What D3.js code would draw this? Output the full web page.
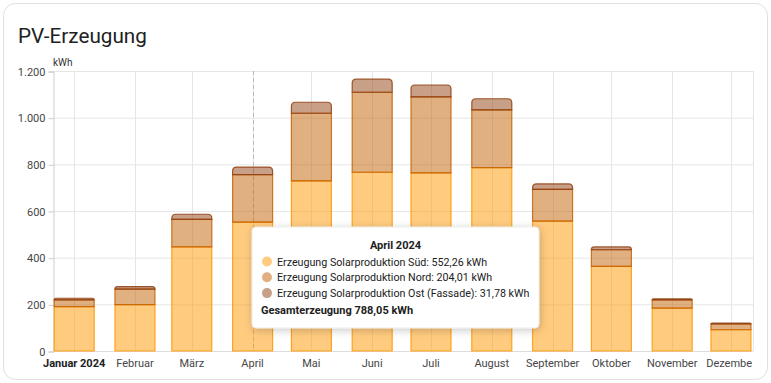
<!DOCTYPE html>
<html>
<head>
<meta charset="utf-8">
<script src="https://cdn.jsdelivr.net/npm/d3@7"></script>
<style>
  body { margin: 0; background: #fff; font-family: Roboto, "Noto Sans", sans-serif; }
  svg { display: block; }
</style>
</head>
<body>
<svg id="chart" width="771" height="383"></svg>
<script>
/* DATA */
const months = ["2024-01-01", "2024-02-01", "2024-03-01", "2024-04-01", "2024-05-01", "2024-06-01",
  "2024-07-01", "2024-08-01", "2024-09-01", "2024-10-01", "2024-11-01", "2024-12-01"];
const monthLabels = ["Januar 2024", "Februar", "März", "April", "Mai", "Juni",
  "Juli", "August", "September", "Oktober", "November", "Dezember"];
const sued = [190, 199, 446, 552.26, 729, 766, 763, 786, 557, 363, 184, 91];
const nord = [29, 66, 118, 204.01, 290, 343, 326, 247, 136, 71, 35, 25];
const ost = [7, 11, 22, 31.78, 47, 56, 51, 48, 23, 12, 5, 4];
const yTicks = [0, 200, 400, 600, 800, 1000, 1200];

const series = [
  { name: "Erzeugung Solarproduktion Süd", values: sued, color: "#ff9800" },
  { name: "Erzeugung Solarproduktion Nord", values: nord, color: "#c46204" },
  { name: "Erzeugung Solarproduktion Ost (Fassade)", values: ost, color: "#914010" }
];
const hoverIndex = 3;

const svg = d3.select("#chart");
const fmt = d3.formatLocale({ decimal: ",", thousands: ".", grouping: [3], currency: ["", " €"] });
const tickFmt = fmt.format(",.0f");
const valFmt = fmt.format(",.2f");

// card
svg.append("rect")
  .attr("x", 3.5).attr("y", 3.5).attr("width", 764).attr("height", 376)
  .attr("rx", 12).attr("fill", "#fff").attr("stroke", "#e0e0e0");

svg.append("text")
  .attr("x", 18).attr("y", 43)
  .attr("font-size", 20.7).attr("fill", "#212121")
  .text("PV-Erzeugung");

/* SCALES */
const plotL = 53, plotR = 753, plotT = 71, plotB = 351;
const dates = months.map(d => new Date(d + "T00:00:00Z"));
const pad = 10.8 * 864e5;
const x = d3.scaleUtc()
  .domain([new Date(+dates[0] - pad), new Date(+dates[11] + pad * 1.04)])
  .range([plotL, plotR]);
const y = d3.scaleLinear().domain([0, 1200]).range([plotB, plotT]);

// grid
const grid = svg.append("g");
grid.selectAll(".hg").data(yTicks).join("line")
  .attr("x1", plotL).attr("x2", plotR)
  .attr("y1", d => y(d) + 0.5).attr("y2", d => y(d) + 0.5)
  .attr("stroke", "#e6e6e6");
grid.selectAll(".vg").data(dates).join("line")
  .attr("x1", d => Math.round(x(d)) + 0.5).attr("x2", d => Math.round(x(d)) + 0.5)
  .attr("y1", plotT).attr("y2", plotB)
  .attr("stroke", "#e6e6e6");
grid.append("line")
  .attr("x1", plotR + 0.5).attr("x2", plotR + 0.5).attr("y1", plotT).attr("y2", plotB)
  .attr("stroke", "#e6e6e6");

// y axis
const yAxis = svg.append("g")
  .attr("transform", `translate(${plotL + 0.5},0.5)`)
  .call(d3.axisLeft(y).tickValues(yTicks).tickFormat(tickFmt).tickSize(5).tickPadding(3));
yAxis.select(".domain").attr("stroke", "#ccc");
yAxis.selectAll(".tick line").attr("stroke", "#ccc");
yAxis.selectAll("text").attr("font-size", 11).attr("fill", "#464646")
  .attr("font-family", "Roboto");

svg.append("line")
  .attr("x1", plotL).attr("x2", plotR).attr("y1", plotB + 0.5).attr("y2", plotB + 0.5)
  .attr("stroke", "#ddd");

svg.append("text")
  .attr("x", plotL).attr("y", 66)
  .attr("font-size", 10).attr("fill", "#333")
  .text("kWh");

// pointer line
svg.append("line")
  .attr("x1", Math.round(x(dates[hoverIndex])) + 0.5).attr("x2", Math.round(x(dates[hoverIndex])) + 0.5)
  .attr("y1", plotT).attr("y2", plotB)
  .attr("stroke", "#bbb").attr("stroke-dasharray", "4,3");

/* BARS */
const barW = 40, r = 4;
const bars = svg.append("g");
dates.forEach((d, i) => {
  let base = 0;
  series.forEach((s, si) => {
    const v = s.values[i];
    const y0 = y(base), y1 = y(base + v);
    const x0 = x(d) - barW / 2, x1 = x(d) + barW / 2;
    const isTop = si === series.length - 1;
    const c = d3.color(s.color);
    const fill = d3.rgb(c.r, c.g, c.b, 0.5);
    let path;
    if (isTop) {
      const rr = Math.min(r, (y0 - y1) / 1);
      path = `M${x0},${y0}V${y1 + rr}Q${x0},${y1} ${x0 + rr},${y1}H${x1 - rr}Q${x1},${y1} ${x1},${y1 + rr}V${y0}Z`;
    } else {
      path = `M${x0},${y0}V${y1}H${x1}V${y0}Z`;
    }
    bars.append("path")
      .attr("d", path)
      .attr("fill", fill)
      .attr("stroke", s.color)
      .attr("stroke-opacity", 0.85)
      .attr("stroke-width", 1.2);
    base += v;
  });
});

/* X LABELS */
svg.append("clipPath").attr("id", "xclip")
  .append("rect").attr("x", 0).attr("y", 352).attr("width", plotR - 1).attr("height", 30);
svg.append("g").attr("clip-path", "url(#xclip)")
  .selectAll("text").data(dates).join("text")
  .attr("x", d => x(d)).attr("y", 367)
  .attr("text-anchor", "middle")
  .attr("font-size", 11)
  .attr("font-weight", (d, i) => i === 0 ? "bold" : null)
  .attr("fill", (d, i) => i === 0 ? "#212121" : "#464646")
  .text((d, i) => monthLabels[i]);

/* TOOLTIP */
const defs = svg.append("defs");
const f = defs.append("filter").attr("id", "shadow").attr("x", "-10%").attr("y", "-20%")
  .attr("width", "120%").attr("height", "150%");
f.append("feDropShadow").attr("dx", 1).attr("dy", 2).attr("stdDeviation", 4)
  .attr("flood-color", "#000").attr("flood-opacity", 0.2);

const tip = svg.append("g").attr("transform", "translate(252,227)");
tip.append("rect")
  .attr("width", 287).attr("height", 101).attr("rx", 4)
  .attr("fill", "#fff").attr("stroke", "#ececec").attr("filter", "url(#shadow)");
tip.append("text")
  .attr("x", 143.5).attr("y", 22).attr("text-anchor", "middle")
  .attr("font-size", 11).attr("font-weight", "bold").attr("fill", "#212121")
  .text("April 2024");
let total = 0;
series.forEach((s, si) => {
  const v = s.values[hoverIndex];
  total += v;
  const c = d3.color(s.color);
  const cy = 34.5 + si * 15.8;
  tip.append("circle").attr("cx", 15).attr("cy", cy).attr("r", 5)
    .attr("fill", d3.rgb(c.r, c.g, c.b, 0.5));
  tip.append("text")
    .attr("x", 25).attr("y", cy + 4)
    .attr("font-size", 10.7).attr("fill", "#212121")
    .text(`${s.name}: ${valFmt(v)} kWh`);
});
tip.append("text")
  .attr("x", 9).attr("y", 86.5)
  .attr("font-size", 11).attr("font-weight", "bold").attr("fill", "#212121")
  .text(`Gesamterzeugung ${valFmt(total)} kWh`);
</script>
</body>
</html>
